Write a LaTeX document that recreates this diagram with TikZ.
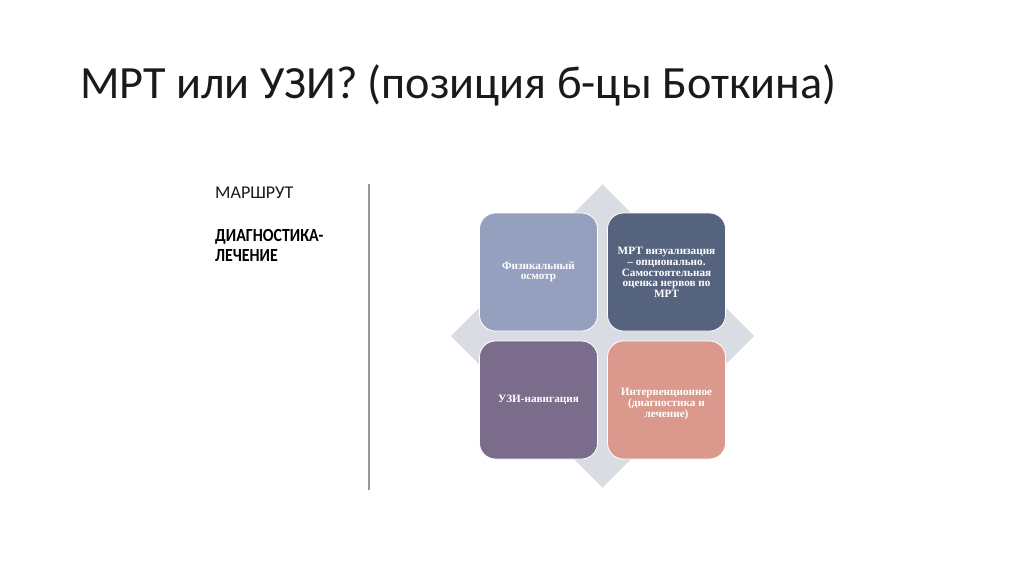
\documentclass[tikz,border=0pt]{standalone}
\usepackage{fontspec}
\setmainfont{Carlito}
\newfontfamily\titlefont{Carlito}
\newfontfamily\condfont[FakeStretch=0.86]{Carlito}
\newfontfamily\boxfont{Liberation Serif}
\definecolor{cTL}{HTML}{95A0BE}
\definecolor{cTR}{HTML}{56637F}
\definecolor{cBL}{HTML}{7B6C8C}
\definecolor{cBR}{HTML}{DB998D}
\definecolor{cDia}{HTML}{D9DCE3}
\definecolor{cRule}{HTML}{9A9A9A}
\definecolor{cText}{HTML}{1A1A1A}
\tikzset{
  tile/.style={draw=white, line width=0.8pt, rounded corners=16pt},
  tiletext/.style={text=white, align=center, font=\boxfont\bfseries\fontsize{11.2}{10.6}\selectfont, inner sep=0pt},
}
\begin{document}
\begin{tikzpicture}[x=1pt,y=-1pt]
\useasboundingbox[fill=white] (0,0) rectangle (1024,574);
% title
\node[anchor=base west, inner sep=0pt, text=cText, font=\titlefont\fontsize{46.2}{50}\selectfont] (title) at (80,98) {МРТ или УЗИ? (позиция б-цы Боткина)};
% left side text
\node[anchor=base west, inner sep=0pt, text=cText, font=\fontsize{18}{20}\selectfont] (route) at (215,198) {МАРШРУТ};
\node[anchor=base west, inner sep=0pt, text=black, font=\condfont\bfseries\fontsize{18.5}{20}\selectfont] (diag) at (215,241) {ДИАГНОСТИКА-};
\node[anchor=base west, inner sep=0pt, text=black, font=\condfont\bfseries\fontsize{18.5}{20}\selectfont] (treat) at (215,261) {ЛЕЧЕНИЕ};
% rule
\coordinate (r1) at (369,184);
\coordinate (r2) at (369,490);
\draw[cRule, line width=1.4pt] (r1) -- (r2);
% diamond
\fill[cDia] (602.5,184.5) -- (754,336) -- (602.5,487.5) -- (451,336) -- cycle;
% tiles
\draw[tile, fill=cTL] (479.5,213) rectangle (597.5,331);
\draw[tile, fill=cTR] (607.5,213) rectangle (725.5,331);
\draw[tile, fill=cBL] (479.5,341) rectangle (597.5,459);
\draw[tile, fill=cBR] (607.5,341) rectangle (725.5,459);
\node[tiletext] (tl) at (538.5,272) {Физикальный\\осмотр};
\node[tiletext] (tr) at (666.5,272.5) {МРТ визуализация\\– опционально.\\Самостоятельная\\оценка нервов по\\МРТ};
\node[tiletext] (bl) at (538.5,400) {УЗИ-навигация};
\node[tiletext] (br) at (666.5,404) {Интервенционное\\(диагностика и\\лечение)};
\end{tikzpicture}
\end{document}
